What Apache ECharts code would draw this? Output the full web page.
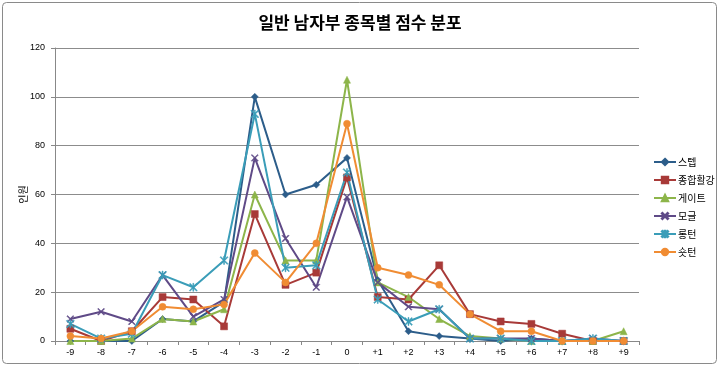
<!DOCTYPE html>
<html><head><meta charset="utf-8">
<script src="https://cdn.jsdelivr.net/npm/echarts@6/dist/echarts.min.js"></script>
<style>html,body{margin:0;padding:0;background:#fff}#c{width:720px;height:367px}</style>
</head><body><div id="c"></div>
<script>
const categories = ['-9','-8','-7','-6','-5','-4','-3','-2','-1','0','+1','+2','+3','+4','+5','+6','+7','+8','+9'];
const seriesNames = ['스텝','종합활강','게이트','모글','롱턴','숏턴'];
const step    = [0,0,0,9,8,16,100,60,64,75,25,4,2,1,0,1,0,0,0];
const combined= [5,0,4,18,17,6,52,23,28,67,18,17,31,11,8,7,3,0,0];
const gate    = [0,0,1,9,8,13,60,33,33,107,24,18,9,2,1,0,0,0,4];
const mogul   = [9,12,8,27,10,17,75,42,22,59,24,14,13,1,1,1,0,1,0];
const longTurn= [7,1,3,27,22,33,93,30,31,69,17,8,13,1,1,0,0,1,0];
const shortTurn=[2,1,4,14,13,15,36,24,40,89,30,27,23,11,4,4,0,0,0];
const yTicks = [0,20,40,60,80,100,120];

const values = [step,combined,gate,mogul,longTurn,shortTurn];
const colors = ['#2C5D8A','#A83A38','#8DB54A','#5F4A87','#3A9DB8','#F08C33'];
const xPath = 'path://M0,1 L1,0 L5,4 L9,0 L10,1 L6,5 L10,9 L9,10 L5,6 L1,10 L0,9 L4,5 Z';
const starPath = 'path://M0,1 L1,0 L5,4 L9,0 L10,1 L6,5 L10,9 L9,10 L5,6 L1,10 L0,9 L4,5 Z M4.4,0 L5.6,0 L5.6,10 L4.4,10 Z';
const symbols = ['diamond','rect','triangle',xPath,starPath,'circle'];
const sizes = [7,7,7,7,8,7];

const chart = echarts.init(document.getElementById('c'));
chart.setOption({
  backgroundColor:'#fff',
  animation:false,
  title:{text:'일반 남자부 종목별 점수 분포',left:'center',top:9,
    textStyle:{fontFamily:'Noto Sans CJK KR',fontSize:17,fontWeight:'bold',color:'#000'}},
  legend:{orient:'vertical',left:648,top:152,itemGap:8,itemWidth:22,itemHeight:8,
    data:seriesNames,
    textStyle:{fontFamily:'Noto Sans CJK KR',fontSize:10,color:'#000',padding:[0,0,0,-3]}},
  grid:{left:55,right:81,top:48,bottom:26},
  graphic:[{type:'rect',shape:{x:2.5,y:2.5,width:714,height:361,r:4},
    style:{fill:'none',stroke:'#8a8a8a',lineWidth:1},silent:true}],
  xAxis:{type:'category',data:categories,boundaryGap:true,
    axisLine:{lineStyle:{color:'#888'}},
    axisTick:{show:true,length:4,lineStyle:{color:'#888'}},
    axisLabel:{fontFamily:'Liberation Sans',fontSize:9,color:'#000',margin:7}},
  yAxis:{type:'value',min:0,max:120,interval:20,
    name:'인원',nameLocation:'middle',nameRotate:90,nameGap:27,nameMoveOverlap:false,
    nameTextStyle:{fontFamily:'Noto Sans CJK KR',fontSize:10,color:'#000'},
    axisLine:{show:true,lineStyle:{color:'#888'}},
    axisTick:{show:true,length:4,lineStyle:{color:'#888'}},
    splitLine:{lineStyle:{color:'#8c8c8c',width:1}},
    axisLabel:{fontFamily:'Liberation Sans',fontSize:9,color:'#000',margin:10,
      formatter:v=>yTicks.includes(v)?String(v):''}},
  series: seriesNames.map((n,i)=>({
    name:n,type:'line',data:values[i],symbol:symbols[i],symbolSize:sizes[i],
    showAllSymbol:true,
    lineStyle:{color:colors[i],width:2},
    itemStyle:{color:colors[i],borderColor:colors[i],borderWidth:0.5}
  }))
});
</script></body></html>
